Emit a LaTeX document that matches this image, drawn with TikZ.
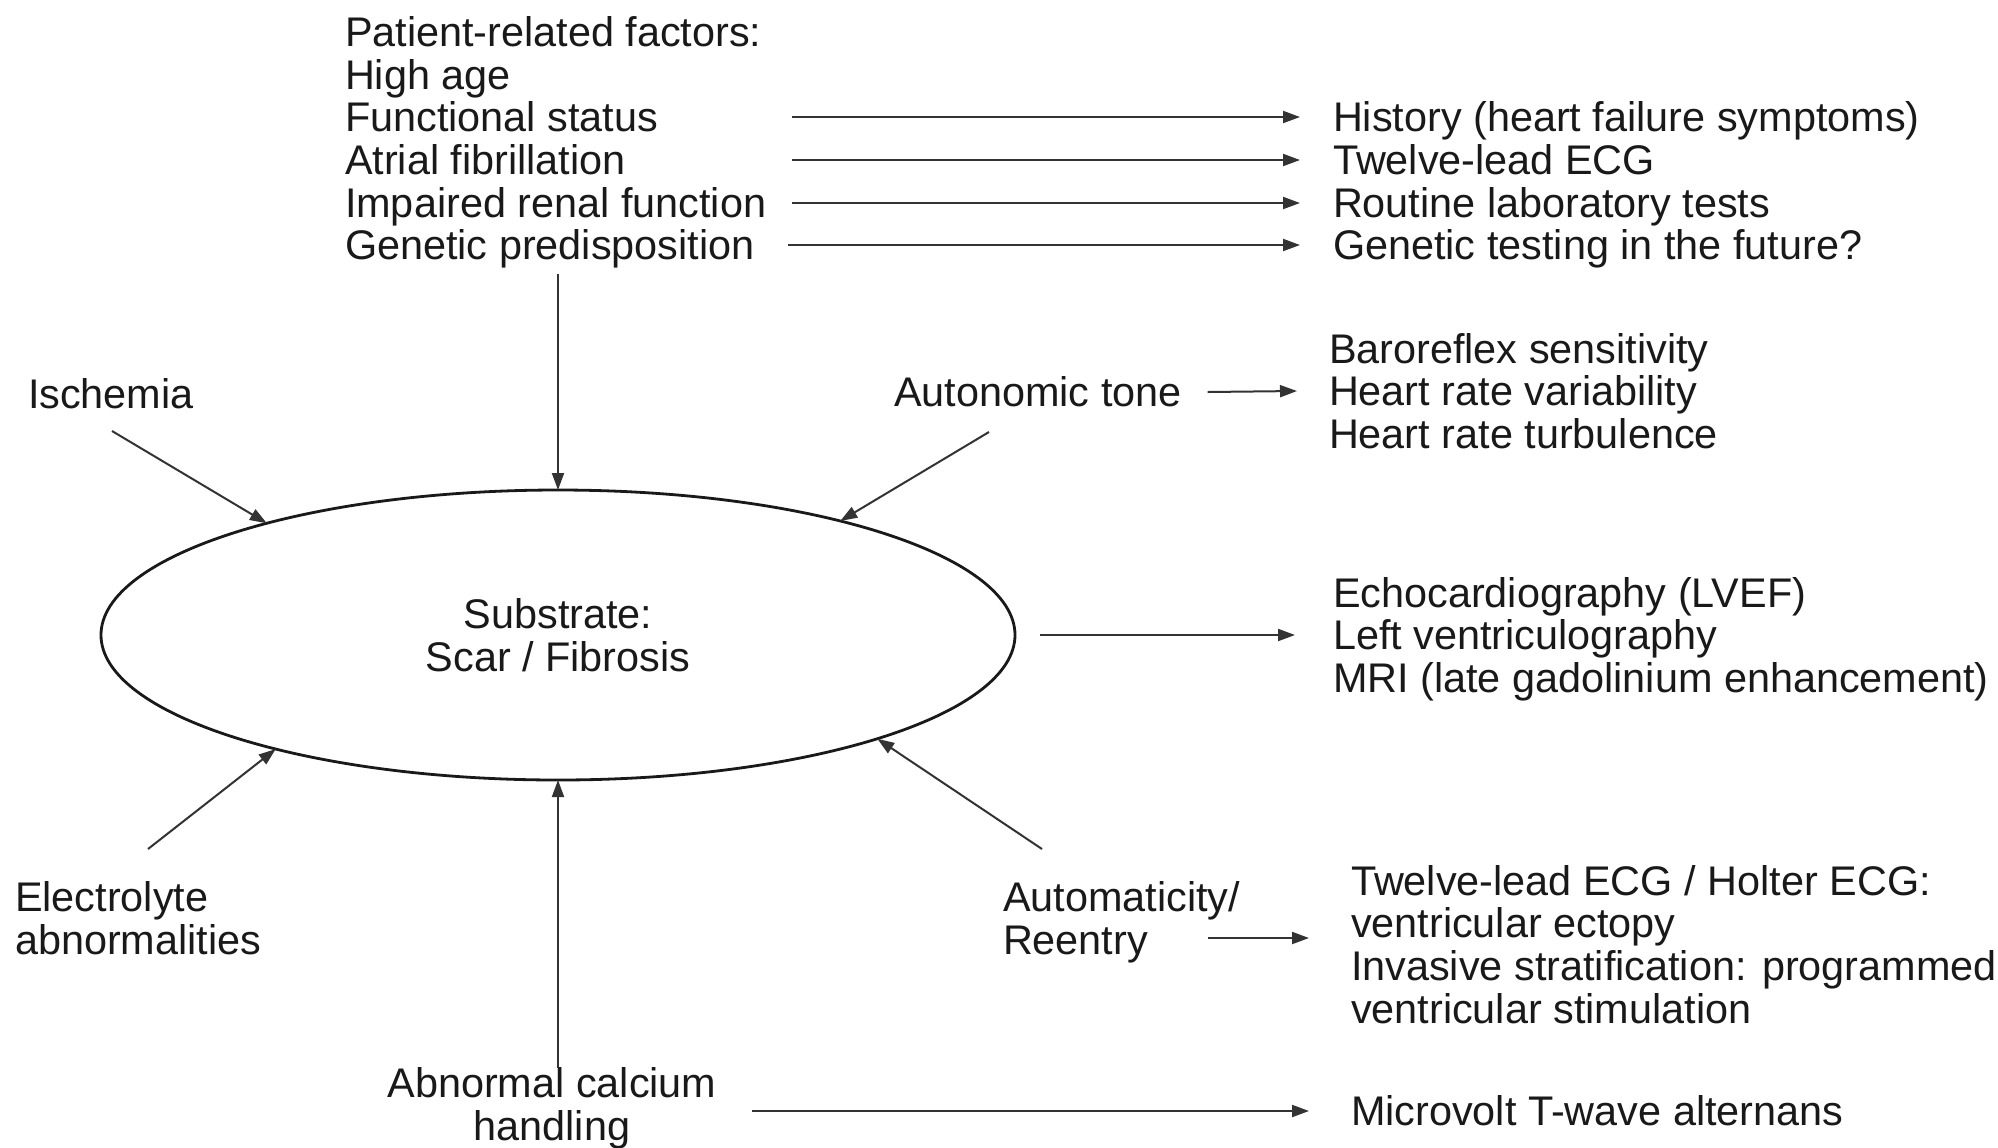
\documentclass[tikz,border=0pt]{standalone}
\usepackage{fontspec}
\setmainfont{Liberation Sans}
\usetikzlibrary{arrows.meta,shapes.geometric}
\begin{document}
\begin{tikzpicture}[x=0.5pt,y=-0.5pt,
  txt/.style={font=\fontsize{20.7}{21.35}\selectfont, text=black!90, inner sep=0pt, outer sep=0pt,
              text height=14.8pt, text depth=0pt, align=left, anchor=west},
  two/.style={text height=36.15pt},
  three/.style={text height=57.5pt},
  four/.style={text height=78.85pt},
  arr/.style={draw=black!80, line width=1pt, -{Triangle[length=8.5pt,width=6pt]}},
]
\path[use as bounding box, fill=white] (0,0) rectangle (1998,1147);

% central ellipse
\node[txt, two, ellipse, draw=black!90, line width=1.4pt, minimum width=457pt, minimum height=145pt,
      align=center, anchor=center] (sub) at (558,635) {Substrate:\\Scar / Fibrosis};

% patient-related factors
\node[txt] (p0) at (345,32)  {Patient-related factors:};
\node[txt] (p1) at (345,75)  {High age};
\node[txt] (p2) at (345,117) {Functional status};
\node[txt] (p3) at (345,160) {Atrial fibrillation};
\node[txt] (p4) at (345,203) {Impaired renal function};
\node[txt] (p5) at (345,245) {Genetic predisposition};

\node[txt] (h1) at (1333,117) {History (heart failure symptoms)};
\node[txt] (h2) at (1333,160) {Twelve-lead ECG};
\node[txt] (h3) at (1333,203) {Routine laboratory tests};
\node[txt] (h4) at (1333,245) {Genetic testing in the future?};

\coordinate (a1) at (792,117);
\coordinate (a2) at (792,160);
\coordinate (a3) at (792,203);
\coordinate (a4) at (788,245);
\draw[arr] (a1) -- ([xshift=-16.5pt]h1.west);
\draw[arr] (a2) -- ([xshift=-16.5pt]h2.west);
\draw[arr] (a3) -- ([xshift=-16.5pt]h3.west);
\draw[arr] (a4) -- ([xshift=-16.5pt]h4.west);

\coordinate (v0) at (558,274);
\draw[arr] (v0) -- (sub.north);

% ischemia
\node[txt] (isch) at (28,394) {Ischemia};
\coordinate (i0) at (112,431);
\draw[arr] (i0) -- (sub.159);

% autonomic tone
\node[txt] (auto) at (894,392) {Autonomic tone};
\coordinate (t0) at (989,432);
\draw[arr] (t0) -- (sub.22);
\node[txt, three] (baro) at (1329,391) {Baroreflex sensitivity\\Heart rate variability\\Heart rate turbulence};
\draw[arr] ([xshift=13pt]auto.east) -- ([xshift=-16pt]baro.west);

% imaging
\node[txt, three] (echo) at (1333,635) {Echocardiography (LVEF)\\Left ventriculography\\MRI (late gadolinium enhancement)};
\draw[arr] ([xshift=12.5pt]sub.east) -- ([xshift=-19pt]echo.west);

% electrolyte
\node[txt, two] (elec) at (15,918.5) {Electrolyte\\abnormalities};
\coordinate (e0) at (148,849);
\draw[arr] (e0) -- (sub.202);

% automaticity / reentry
\node[txt, two] (autr) at (1003,918.5) {Automaticity/\\Reentry};
\coordinate (r1) at (1042,849);
\draw[arr] (r1) -- (sub.342);
\node[txt, four] (tw) at (1351,944.5) {Twelve-lead ECG / Holter ECG:\\ventricular ectopy\\Invasive stratification: programmed\\ventricular stimulation};
\coordinate (r0) at (1208,938);
\draw[arr] (r0) -- ([xshift=-21pt]r0 -| tw.west);

% calcium
\node[txt, two, align=center, anchor=center] (calc) at (552,1104) {Abnormal calcium\\handling};
\coordinate (v1) at (558,1068);
\draw[arr] (v1) -- (sub.south);
\node[txt] (micro) at (1351,1111) {Microvolt T-wave alternans};
\coordinate (c1) at (752,1111);
\draw[arr] (c1) -- ([xshift=-21pt]micro.west);
\end{tikzpicture}
\end{document}
